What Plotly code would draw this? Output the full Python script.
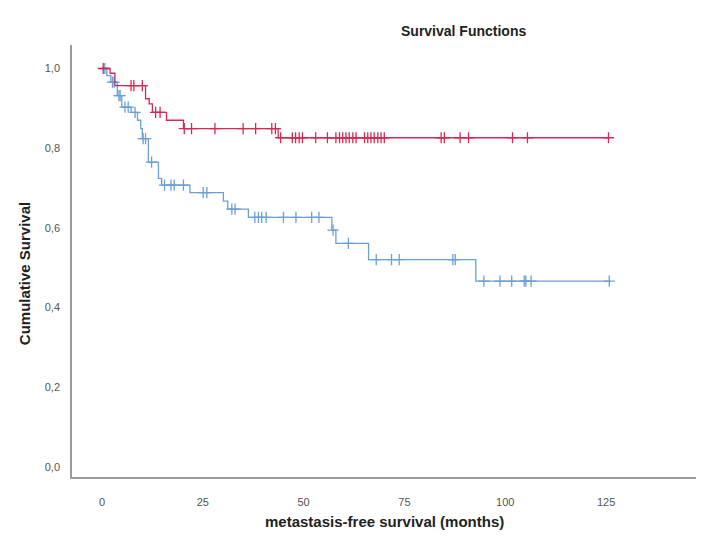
import plotly.graph_objects as go

# ---- data ----
red_event_times = [2.0, 3.2, 10.8, 11.7, 12.5, 16.0, 20.2, 43.7]
red_event_surv = [0.988, 0.957, 0.924, 0.911, 0.890, 0.870, 0.849, 0.826]
red_censor_times = [0.3, 7.2, 7.9, 10.0, 13.3, 14.4, 20.4, 22.2, 28.0, 35.0, 38.1,
                    42.1, 43.0, 44.3, 47.2, 48.0, 48.9, 49.7, 53.0, 55.9, 58.0, 58.9,
                    59.7, 60.5, 61.3, 62.2, 63.0, 65.1, 65.9, 66.7, 67.5, 68.4, 69.2,
                    70.0, 84.1, 84.9, 88.8, 90.9, 101.8, 105.5, 125.6]

blue_event_times = [1.2, 2.2, 3.8, 4.9, 7.2, 8.8, 9.6, 10.0, 11.5, 14.0, 14.8,
                    21.8, 30.1, 31.2, 36.3, 57.0, 58.0, 66.1, 92.7]
blue_event_surv = [0.982, 0.966, 0.932, 0.903, 0.890, 0.870, 0.849, 0.824, 0.765,
                   0.724, 0.707, 0.688, 0.667, 0.647, 0.626, 0.594, 0.561, 0.520, 0.466]
blue_censor_times = [0.7, 2.6, 3.0, 4.2, 4.5, 5.7, 6.5, 8.2, 10.2, 10.8, 12.3, 15.5,
                     17.1, 17.9, 20.2, 25.1, 26.0, 32.2, 33.0, 37.9, 38.8, 39.6, 40.7,
                     45.0, 48.1, 52.0, 53.8, 57.3, 61.1, 68.0, 71.8, 73.7, 87.0, 87.6,
                     94.7, 98.7, 101.6, 104.7, 105.1, 106.4, 125.8]

y_ticks = [0.0, 0.2, 0.4, 0.6, 0.8, 1.0]
x_ticks = [0, 25, 50, 75, 100, 125]

RED = "#d42a52"
BLUE = "#6a9fd8"


def step_value(times, surv, t):
    s = 1.0
    for ti, si in zip(times, surv):
        if ti <= t:
            s = si
    return s


def curve(times, surv, censors):
    end = max(censors + times)
    xs = [0] + list(times) + [end]
    ys = [1.0] + list(surv) + [surv[-1]]
    cy = [step_value(times, surv, c) for c in censors]
    return xs, ys, cy


fig = go.Figure()
for times, surv, cens, col in [(blue_event_times, blue_event_surv, blue_censor_times, BLUE),
                               (red_event_times, red_event_surv, red_censor_times, RED)]:
    xs, ys, cy = curve(times, surv, cens)
    fig.add_trace(go.Scatter(x=xs, y=ys, mode="lines", line=dict(color=col, width=1.3, shape="hv"),
                             showlegend=False, hoverinfo="skip"))
    fig.add_trace(go.Scatter(x=cens, y=cy, mode="markers",
                             marker=dict(symbol="cross-thin", size=8, line=dict(color=col, width=1.3)),
                             showlegend=False))

fig.update_layout(
    width=707, height=560,
    margin=dict(l=72, r=11, t=45, b=83),
    paper_bgcolor="white", plot_bgcolor="white",
    separators=",.",
    font=dict(family="Liberation Sans, Arial, sans-serif", color="#222"),
    xaxis=dict(range=[-7.44, 147.3], tickvals=x_ticks, showgrid=False, zeroline=False,
               showline=True, linecolor="#9a9a9a", linewidth=1.5,
               ticks="outside", ticklen=14, tickcolor="rgba(0,0,0,0)",
               tickfont=dict(size=11, color="#555")),
    yaxis=dict(range=[-0.026, 1.059], tickvals=y_ticks, tickformat=".1f", showgrid=False,
               zeroline=False, showline=True, linecolor="#9a9a9a", linewidth=1.5,
               ticks="outside", ticklen=8, tickcolor="rgba(0,0,0,0)",
               tickfont=dict(size=11, color="#555")),
    annotations=[
        dict(text="<b>Survival Functions</b>", x=0.627, y=1.032, xref="paper", yref="paper",
             xanchor="center", yanchor="middle",
             showarrow=False, font=dict(size=14, color="#222")),
        dict(text="<b>metastasis-free survival (months)</b>", x=0.5, y=-0.103, xref="paper",
             yref="paper", xanchor="center", yanchor="middle",
             showarrow=False, font=dict(size=15, color="#222")),
        dict(text="<b>Cumulative Survival</b>", x=-0.075, y=0.47, xref="paper", yref="paper",
             xanchor="center", yanchor="middle",
             showarrow=False, textangle=-90, font=dict(size=15, color="#222")),
    ],
)

fig.write_html("out.html", config={"displayModeBar": False},
               post_script="document.body.style.margin='0px';")
